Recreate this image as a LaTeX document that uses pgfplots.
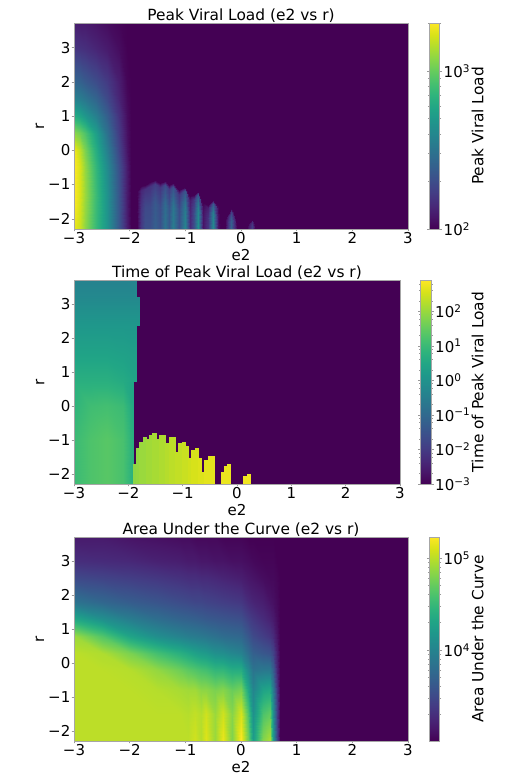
\documentclass[border=0pt]{standalone}
\usepackage{fontspec}
\setmainfont{DejaVu Sans}
\usepackage{pgfplots}
\pgfplotsset{compat=1.18}
\definecolor{vbg}{rgb}{0.267,0.005,0.329}
\newcommand\tenp[1]{10\textsuperscript{#1}}
\pgfplotsset{
  panel/.style={
    scale only axis, view={0}{90}, colormap name=viridis,
    xmin=-3,xmax=3,ymin=-2.3,ymax=3.72,
    xtick={-3,-2,-1,0,1,2,3}, xticklabels={−3,−2,−1,0,1,2,3},
    ytick={-2,-1,0,1,2,3}, yticklabels={−2,−1,0,1,2,3},
    tick label style={font=\fontsize{15}{16}\selectfont, inner sep=1pt},
    label style={font=\fontsize{15}{16}\selectfont},
    title style={font=\fontsize{15.4}{16}\selectfont, inner sep=0pt, yshift=-6pt},
    axis line style={draw=gray!70,line width=0.5pt},
    tick style={draw=gray!80,line width=0.4pt},
    major tick length=2.5pt, tick align=outside,
    xtick pos=left, ytick pos=left,
    xlabel=e2, ylabel=r,
    xlabel style={at={(axis description cs:0.5,-0.127)}, anchor=center},
    ylabel style={at={(axis description cs:-0.102,0.5)}, anchor=center},
    axis background/.style={fill=vbg},
    colorbar,
  },
  cb/.style={
    scale only axis, width=10pt, height=206pt,
    at={(parent axis.north east)}, anchor=north west,
    axis line style={draw=gray!70,line width=0.4pt},
    tick style={draw=gray!80,line width=0.4pt},
    major tick length=2.5pt, minor tick length=1.5pt, tick align=outside,
    yticklabel style={font=\fontsize{15}{16}\selectfont, inner sep=1.5pt},
    ylabel style={font=\fontsize{15.4}{16}\selectfont, anchor=center},
    xtick=\empty,
  },
  sheet/.style={surf, shader=interp, draw=none},
}
\begin{document}
\begin{tikzpicture}[x=1pt,y=1pt]
\path[use as bounding box] (0,0) rectangle (524pt,775pt);
% ---------- Panel 1 ---------- (z = position on the log colour scale, 10^2 ... 10^3.304)
\begin{axis}[panel, at={(74pt,546pt)}, anchor=south west, width=334pt, height=206pt,
  title={Peak Viral Load (e2 vs r)},
  point meta min=2, point meta max=3.304,
  colorbar style={cb, xshift=13pt, ytick={2,3}, yticklabels={\tenp{2},\tenp{3}},
    minor ytick={2.301,2.477,2.602,2.699,2.778,2.845,2.903,2.954,3.301},
    ylabel={Peak Viral Load}, ylabel style={at={(axis description cs:4.8,0.5)}}},
]
\addplot3[sheet, mesh/cols=8, point meta={2+1.304*z}] coordinates {
(-3,-2.3,.97)(-2.9,-2.3,.92)(-2.8,-2.3,.83)(-2.6,-2.3,.67)(-2.4,-2.3,.52)(-2.2,-2.3,.27)(-2.05,-2.3,.08)(-1.98,-2.3,0)
(-3,-1.3,1)(-2.9,-1.3,.94)(-2.8,-1.3,.85)(-2.6,-1.3,.68)(-2.4,-1.3,.51)(-2.2,-1.3,.26)(-2.05,-1.3,.07)(-1.98,-1.3,0)
(-3,-.5,1)(-2.9,-.5,.94)(-2.8,-.5,.84)(-2.6,-.5,.66)(-2.4,-.5,.48)(-2.2,-.5,.24)(-2.05,-.5,.07)(-1.98,-.5,0)
(-3,0,.98)(-2.9,0,.90)(-2.8,0,.80)(-2.6,0,.62)(-2.4,0,.43)(-2.2,0,.20)(-2.05,0,.05)(-1.98,0,0)
(-3,.5,.83)(-2.9,.5,.78)(-2.8,.5,.72)(-2.6,.5,.56)(-2.4,.5,.37)(-2.2,.5,.17)(-2.05,.5,.04)(-1.98,.5,0)
(-3,1,.62)(-2.9,1,.58)(-2.8,1,.53)(-2.6,1,.43)(-2.4,1,.30)(-2.2,1,.14)(-2.05,1,.03)(-1.98,1,0)
(-3,1.5,.44)(-2.9,1.5,.42)(-2.8,1.5,.39)(-2.6,1.5,.32)(-2.4,1.5,.22)(-2.2,1.5,.10)(-2.05,1.5,.02)(-1.98,1.5,0)
(-3,2,.32)(-2.9,2,.31)(-2.8,2,.28)(-2.6,2,.23)(-2.4,2,.17)(-2.2,2,.08)(-2.05,2,.01)(-1.98,2,0)
(-3,3,.15)(-2.9,3,.14)(-2.8,3,.13)(-2.6,3,.10)(-2.4,3,.07)(-2.2,3,.03)(-2.05,3,0)(-1.98,3,0)
(-3,3.72,.08)(-2.9,3.72,.07)(-2.8,3.72,.07)(-2.6,3.72,.05)(-2.4,3.72,.03)(-2.2,3.72,.01)(-2.05,3.72,0)(-1.98,3.72,0)
};
% stripes: rows are bottom, middle, just below the top, top of each stripe
\addplot3[sheet, mesh/cols=28, point meta={2+1.304*z}] coordinates {
(-1.86,-2.3,0)(-1.8,-2.3,.16)(-1.72,-2.3,.24)(-1.63,-2.3,.24)(-1.545,-2.3,.30)(-1.455,-2.3,.25)(-1.365,-2.3,.38)(-1.29,-2.3,.28)(-1.215,-2.3,.42)(-1.11,-2.3,.25)(-1,-2.3,.45)(-.92,-2.3,.12)(-.85,-2.3,.25)(-.77,-2.3,.50)(-.68,-2.3,.05)(-.6,-2.3,.15)(-.5,-2.3,.48)(-.42,-2.3,.05)(-.38,-2.3,0)(-.28,-2.3,0)(-.24,-2.3,.15)(-.185,-2.3,.32)(-.13,-2.3,.15)(-.08,-2.3,0)(.1,-2.3,0)(.14,-2.3,.08)(.19,-2.3,.18)(.25,-2.3,0)
(-1.86,-1.75,0)(-1.8,-1.67,.15)(-1.72,-1.65,.22)(-1.63,-1.62,.22)(-1.545,-1.58,.28)(-1.455,-1.62,.23)(-1.365,-1.6,.35)(-1.29,-1.65,.26)(-1.215,-1.62,.39)(-1.11,-1.72,.23)(-1,-1.68,.41)(-.92,-1.82,.11)(-.85,-1.8,.23)(-.77,-1.75,.46)(-.68,-1.92,.05)(-.6,-1.95,.14)(-.5,-1.87,.44)(-.42,-1.95,.05)(-.38,-2.3,0)(-.28,-2.15,0)(-.24,-2.08,.14)(-.185,-2,.29)(-.13,-2.08,.14)(-.08,-2.2,0)(.1,-2.25,0)(.14,-2.21,.07)(.19,-2.17,.17)(.25,-2.2,0)
(-1.86,-1.32,0)(-1.8,-1.17,.10)(-1.72,-1.12,.14)(-1.63,-1.05,.14)(-1.545,-.98,.18)(-1.455,-1.07,.15)(-1.365,-1.02,.23)(-1.29,-1.12,.17)(-1.215,-1.07,.25)(-1.11,-1.27,.15)(-1,-1.18,.27)(-.92,-1.45,.07)(-.85,-1.42,.15)(-.77,-1.32,.30)(-.68,-1.65,.03)(-.6,-1.7,.09)(-.5,-1.57,.29)(-.42,-1.7,.03)(-.38,-2.3,0)(-.28,-2.05,0)(-.24,-1.93,.09)(-.185,-1.8,.19)(-.13,-1.93,.09)(-.08,-2.15,0)(.1,-2.22,0)(.14,-2.15,.05)(.19,-2.08,.11)(.25,-2.15,0)
(-1.86,-1.2,0)(-1.8,-1.05,0)(-1.72,-1,0)(-1.63,-.93,0)(-1.545,-.86,0)(-1.455,-.95,0)(-1.365,-.9,0)(-1.29,-1,0)(-1.215,-.95,0)(-1.11,-1.15,0)(-1,-1.06,0)(-.92,-1.35,0)(-.85,-1.3,0)(-.77,-1.2,0)(-.68,-1.55,0)(-.6,-1.6,0)(-.5,-1.45,0)(-.42,-1.6,0)(-.38,-2.3,0)(-.28,-2,0)(-.24,-1.85,0)(-.185,-1.7,0)(-.13,-1.85,0)(-.08,-2.1,0)(.1,-2.2,0)(.14,-2.12,0)(.19,-2.03,0)(.25,-2.1,0)
};
\end{axis}
% ---------- Panel 2 ---------- (z = position on the log colour scale, 10^-3 ... 10^2.9)
\begin{axis}[panel, at={(74pt,291pt)}, anchor=south west, width=326pt, height=204pt,
  title={Time of Peak Viral Load (e2 vs r)},
  ylabel style={at={(axis description cs:-0.104,0.5)}},
  point meta min=-3, point meta max=2.9,
  colorbar style={cb, width=10.5pt, height=204pt, xshift=12pt, ytick={-3,-2,-1,0,1,2},
    yticklabels={\tenp{−3},\tenp{−2},\tenp{−1},\tenp{0},\tenp{1},\tenp{2}},
    minor ytick={-2.699,-2.398,-2.222,-2.097,-1.699,-1.398,-1.222,-1.097,-.699,-.398,-.222,-.097,.301,.602,.778,.903,1.301,1.602,1.778,1.903,2.301,2.602,2.778},
    ylabel={Time of Peak Viral Load}, ylabel style={at={(axis description cs:5.43,0.5)}}},
]
\addplot3[sheet, mesh/cols=5, point meta={-3+5.9*z}] coordinates {
(-3,-2.3,.68)(-2.7,-2.3,.72)(-2.4,-2.3,.74)(-2.1,-2.3,.71)(-1.92,-2.3,.63)
(-3,-1,.68)(-2.7,-1,.72)(-2.4,-1,.74)(-2.1,-1,.71)(-1.92,-1,.63)
(-3,0,.65)(-2.7,0,.69)(-2.4,0,.70)(-2.1,0,.68)(-1.92,0,.60)
(-3,.754,.63)(-2.7,.754,.63)(-2.4,.754,.63)(-2.1,.754,.61)(-1.92,.754,.58)
(-3,.754,.63)(-2.7,.754,.63)(-2.4,.754,.63)(-2.1,.754,.61)(-1.86,.754,.58)
(-3,1.5,.58)(-2.7,1.5,.58)(-2.4,1.5,.58)(-2.1,1.5,.57)(-1.86,1.5,.56)
(-3,2.385,.53)(-2.7,2.385,.53)(-2.4,2.385,.53)(-2.1,2.385,.53)(-1.86,2.385,.53)
(-3,2.385,.53)(-2.7,2.385,.53)(-2.4,2.385,.53)(-2.1,2.385,.53)(-1.80,2.385,.53)
(-3,3.225,.47)(-2.7,3.225,.47)(-2.4,3.225,.47)(-2.1,3.225,.47)(-1.80,3.225,.47)
(-3,3.225,.47)(-2.7,3.225,.47)(-2.4,3.225,.47)(-2.1,3.225,.47)(-1.86,3.225,.47)
(-3,3.72,.44)(-2.7,3.72,.44)(-2.4,3.72,.44)(-2.1,3.72,.44)(-1.86,3.72,.45)
};
\addplot3[sheet, mesh/cols=44, point meta={-3+5.9*z}] coordinates {
(-1.92,-2.3,.83)(-1.859,-2.3,.83)(-1.859,-2.3,.84)(-1.797,-2.3,.84)(-1.797,-2.3,.85)(-1.736,-2.3,.85)(-1.736,-2.3,.85)(-1.675,-2.3,.85)(-1.675,-2.3,.86)(-1.62,-2.3,.86)(-1.62,-2.3,.86)(-1.558,-2.3,.86)(-1.558,-2.3,.87)(-1.497,-2.3,.87)(-1.497,-2.3,.87)(-1.435,-2.3,.87)(-1.435,-2.3,.88)(-1.319,-2.3,.88)(-1.319,-2.3,.89)(-1.257,-2.3,.89)(-1.257,-2.3,.90)(-1.141,-2.3,.90)(-1.141,-2.3,.91)(-1.08,-2.3,.91)(-1.08,-2.3,.91)(-1.018,-2.3,.91)(-1.018,-2.3,.92)(-.957,-2.3,.92)(-.957,-2.3,.92)(-.895,-2.3,.92)(-.895,-2.3,.93)(-.84,-2.3,.93)(-.84,-2.3,.94)(-.779,-2.3,.94)(-.779,-2.3,.94)(-.717,-2.3,.94)(-.717,-2.3,.95)(-.662,-2.3,.95)(-.662,-2.3,.95)(-.601,-2.3,.95)(-.601,-2.3,.96)(-.54,-2.3,.96)(-.54,-2.3,.96)(-.417,-2.3,.96)
(-1.92,-1.706,.83)(-1.859,-1.706,.83)(-1.859,-1.227,.84)(-1.797,-1.227,.84)(-1.797,-1.051,.85)(-1.736,-1.051,.85)(-1.736,-.924,.85)(-1.675,-.924,.85)(-1.675,-.983,.86)(-1.62,-.983,.86)(-1.62,-.856,.86)(-1.558,-.856,.86)(-1.558,-.807,.87)(-1.497,-.807,.87)(-1.497,-.983,.87)(-1.435,-.983,.87)(-1.435,-.856,.88)(-1.319,-.856,.88)(-1.319,-1.10,.89)(-1.257,-1.10,.89)(-1.257,-.924,.90)(-1.141,-.924,.90)(-1.141,-1.345,.91)(-1.08,-1.345,.91)(-1.08,-1.10,.91)(-1.018,-1.10,.91)(-1.018,-1.051,.92)(-.957,-1.051,.92)(-.957,-1.169,.92)(-.895,-1.169,.92)(-.895,-1.52,.93)(-.84,-1.52,.93)(-.84,-1.296,.94)(-.779,-1.296,.94)(-.779,-1.227,.94)(-.717,-1.227,.94)(-.717,-1.52,.95)(-.662,-1.52,.95)(-.662,-1.951,.95)(-.601,-1.951,.95)(-.601,-1.589,.96)(-.54,-1.589,.96)(-.54,-1.462,.96)(-.417,-1.462,.96)
};
\addplot3[sheet, mesh/cols=6, point meta={-3+5.9*z}] coordinates {
(-.30,-2.3,.97)(-.239,-2.3,.97)(-.239,-2.3,.97)(-.177,-2.3,.97)(-.177,-2.3,.97)(-.116,-2.3,.97)
(-.30,-1.951,.97)(-.239,-1.951,.97)(-.239,-1.765,.97)(-.177,-1.765,.97)(-.177,-1.706,.97)(-.116,-1.706,.97)
};
\addplot3[sheet, mesh/cols=4, point meta={-3+5.9*z}] coordinates {
(.117,-2.3,.98)(.178,-2.3,.98)(.178,-2.3,.98)(.24,-2.3,.98)
(.117,-2.078,.98)(.178,-2.078,.98)(.178,-2,.98)(.24,-2,.98)
};
\end{axis}
% ---------- Panel 3 ---------- (z = position on the log colour scale, 10^3.01 ... 10^5.228)
\begin{axis}[panel, at={(74pt,34pt)}, anchor=south west, width=334pt, height=204pt,
  title={Area Under the Curve (e2 vs r)},
  point meta min=3.01, point meta max=5.228,
  colorbar style={cb, xshift=13pt, height=204pt, ytick={4,5}, yticklabels={\tenp{4},\tenp{5}},
    minor ytick={3.301,3.477,3.602,3.699,3.778,3.845,3.903,3.954,4.301,4.477,4.602,4.699,4.778,4.845,4.903,4.954},
    ylabel={Area Under the Curve}, ylabel style={at={(axis description cs:4.8,0.5)}}},
]
\addplot3[sheet, mesh/cols=20, point meta={3.01+2.218*z}] coordinates {
(-3,-2.3,.90)(-2.5,-2.3,.90)(-2,-2.3,.90)(-1.5,-2.3,.90)(-1.1,-2.3,.90)(-.95,-2.3,.90)(-.82,-2.3,.93)(-.72,-2.3,.89)(-.62,-2.3,.95)(-.47,-2.3,.85)(-.32,-2.3,.97)(-.17,-2.3,.81)(0,-2.3,1)(.13,-2.3,.79)(.22,-2.3,.55)(.4,-2.3,.82)(.52,-2.3,.88)(.58,-2.3,.55)(.64,-2.3,.2)(.7,-2.3,0)
(-3,-1.5,.90)(-2.5,-1.5,.90)(-2,-1.5,.90)(-1.5,-1.5,.90)(-1.1,-1.5,.90)(-.95,-1.5,.89)(-.82,-1.5,.91)(-.72,-1.5,.89)(-.62,-1.5,.93)(-.47,-1.5,.85)(-.32,-1.5,.93)(-.17,-1.5,.82)(0,-1.5,.94)(.13,-1.5,.73)(.22,-1.5,.5)(.4,-1.5,.72)(.52,-1.5,.76)(.58,-1.5,.5)(.64,-1.5,.18)(.7,-1.5,0)
(-3,-.8,.90)(-2.5,-.8,.90)(-2,-.8,.90)(-1.5,-.8,.89)(-1.1,-.8,.87)(-.95,-.8,.86)(-.82,-.8,.86)(-.72,-.8,.83)(-.62,-.8,.83)(-.47,-.8,.80)(-.32,-.8,.82)(-.17,-.8,.77)(0,-.8,.80)(.13,-.8,.6)(.22,-.8,.45)(.4,-.8,.58)(.52,-.8,.6)(.58,-.8,.42)(.64,-.8,.15)(.7,-.8,0)
(-3,-.2,.90)(-2.5,-.2,.90)(-2,-.2,.89)(-1.5,-.2,.84)(-1.1,-.2,.78)(-.95,-.2,.75)(-.82,-.2,.73)(-.72,-.2,.71)(-.62,-.2,.70)(-.47,-.2,.66)(-.32,-.2,.66)(-.17,-.2,.62)(0,-.2,.62)(.13,-.2,.48)(.22,-.2,.38)(.4,-.2,.4)(.52,-.2,.4)(.58,-.2,.3)(.64,-.2,.1)(.7,-.2,0)
(-3,.3,.90)(-2.5,.3,.88)(-2,.3,.80)(-1.5,.3,.70)(-1.1,.3,.63)(-.95,.3,.60)(-.82,.3,.57)(-.72,.3,.55)(-.62,.3,.54)(-.47,.3,.5)(-.32,.3,.49)(-.17,.3,.46)(0,.3,.44)(.13,.3,.36)(.22,.3,.3)(.4,.3,.27)(.52,.3,.25)(.58,.3,.2)(.64,.3,.08)(.7,.3,0)
(-3,.8,.85)(-2.5,.8,.73)(-2,.8,.58)(-1.5,.8,.49)(-1.1,.8,.44)(-.95,.8,.42)(-.82,.8,.41)(-.72,.8,.40)(-.62,.8,.39)(-.47,.8,.37)(-.32,.8,.35)(-.17,.8,.34)(0,.8,.33)(.13,.8,.27)(.22,.8,.22)(.4,.8,.18)(.52,.8,.15)(.58,.8,.12)(.64,.8,.05)(.7,.8,0)
(-3,1.3,.60)(-2.5,1.3,.50)(-2,1.3,.42)(-1.5,1.3,.36)(-1.1,1.3,.32)(-.95,1.3,.31)(-.82,1.3,.30)(-.72,1.3,.29)(-.62,1.3,.28)(-.47,1.3,.27)(-.32,1.3,.26)(-.17,1.3,.25)(0,1.3,.24)(.13,1.3,.19)(.22,1.3,.16)(.4,1.3,.12)(.52,1.3,.09)(.58,1.3,.07)(.64,1.3,.03)(.7,1.3,0)
(-3,1.8,.38)(-2.5,1.8,.33)(-2,1.8,.29)(-1.5,1.8,.26)(-1.1,1.8,.23)(-.95,1.8,.22)(-.82,1.8,.21)(-.72,1.8,.21)(-.62,1.8,.20)(-.47,1.8,.19)(-.32,1.8,.18)(-.17,1.8,.17)(0,1.8,.16)(.13,1.8,.12)(.22,1.8,.10)(.4,1.8,.08)(.52,1.8,.05)(.58,1.8,.04)(.64,1.8,.02)(.7,1.8,0)
(-3,2.5,.22)(-2.5,2.5,.2)(-2,2.5,.18)(-1.5,2.5,.16)(-1.1,2.5,.14)(-.95,2.5,.13)(-.82,2.5,.13)(-.72,2.5,.12)(-.62,2.5,.12)(-.47,2.5,.11)(-.32,2.5,.10)(-.17,2.5,.09)(0,2.5,.08)(.13,2.5,.06)(.22,2.5,.05)(.4,2.5,.03)(.52,2.5,.02)(.58,2.5,.02)(.64,2.5,.01)(.7,2.5,0)
(-3,3,.13)(-2.5,3,.12)(-2,3,.11)(-1.5,3,.09)(-1.1,3,.08)(-.95,3,.07)(-.82,3,.07)(-.72,3,.06)(-.62,3,.06)(-.47,3,.05)(-.32,3,.05)(-.17,3,.04)(0,3,.04)(.13,3,.03)(.22,3,.02)(.4,3,.01)(.52,3,.01)(.58,3,.01)(.64,3,0)(.7,3,0)
(-3,3.72,.07)(-2.5,3.72,.07)(-2,3.72,.05)(-1.5,3.72,.04)(-1.1,3.72,.03)(-.95,3.72,.03)(-.82,3.72,.02)(-.72,3.72,.02)(-.62,3.72,.02)(-.47,3.72,.02)(-.32,3.72,.01)(-.17,3.72,.01)(0,3.72,.01)(.13,3.72,0)(.22,3.72,0)(.4,3.72,0)(.52,3.72,0)(.58,3.72,0)(.64,3.72,0)(.7,3.72,0)
};
\end{axis}
\end{tikzpicture}
\end{document}
